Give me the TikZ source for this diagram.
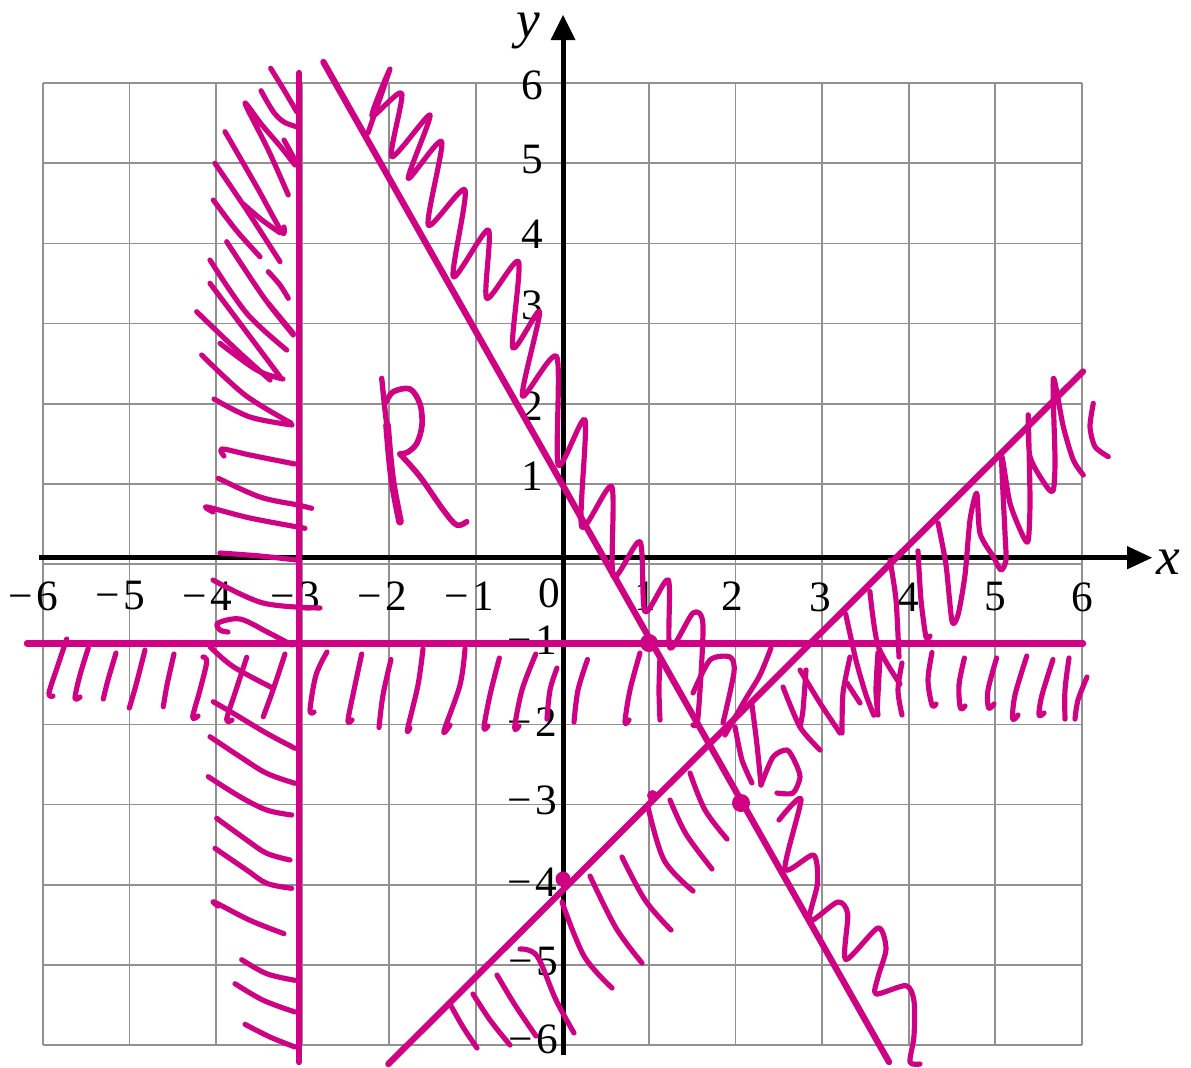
\documentclass[tikz,border=0pt]{standalone}
\usepackage{fontspec}
\setmainfont{Liberation Serif}
\definecolor{mag}{RGB}{208,2,132}
\definecolor{gridc}{RGB}{145,145,145}
\begin{document}
\begin{tikzpicture}[x=0.3pt,y=-0.3pt,
  gridline/.style={draw=gridc, line width=0.5pt},
  axisline/.style={draw=black, line width=1.5pt},
  bigline/.style={draw=mag, line width=1.9pt, line cap=round},
  ht/.style={draw=mag, line width=1.55pt, line cap=round, line join=round},
  lab/.style={font=\fontsize{13}{15}\selectfont, inner sep=0pt},
  alab/.style={font=\fontsize{16}{18}\selectfont\itshape, inner sep=0pt}]
\useasboundingbox (0,0) rectangle (1191,1067);
% grid
\foreach \i in {0,...,12} {
  \draw[gridline] ({42.9+86.58*\i},83) -- ({42.9+86.58*\i},1045.1);
  \draw[gridline] (42.9,{83+80.17*\i}) -- (1081.9,{83+80.17*\i});
}
% axes
\draw[axisline] (39,557.7) -- (1128,557.7);
\fill (1152,557.7) -- (1127,546) -- (1127,569.4) -- cycle;
\draw[axisline] (563,1055) -- (563,39);
\fill (563,15) -- (550.5,40) -- (575.5,40) -- cycle;
\node[alab] (ylab) at (528,31) {y};
\node[alab] (xlab) at (1168,562) {x};
% x labels
\node[lab] (xm6) at (33.7,596) {−\kern0.08em 6};
\node[lab] (xm5) at (120,596) {−\kern0.08em 5};
\node[lab] (xm4) at (207,596) {−\kern0.08em 4};
\node[lab] (xm3) at (295.6,596) {−\kern0.08em 3};
\node[lab] (xm2) at (382,596) {−\kern0.08em 2};
\node[lab] (xm1) at (469.5,596) {−\kern0.08em 1};
\node[lab] (x0) at (549,593) {0};
\node[lab] (x1) at (645,596) {1};
\node[lab] (x2) at (732,596) {2};
\node[lab] (x3) at (820,597) {3};
\node[lab] (x4) at (908,597) {4};
\node[lab] (x5) at (995,597) {5};
\node[lab] (x6) at (1082,597) {6};
% y labels
\node[lab] (y6) at (532,85) {6};
\node[lab] (y5) at (532,160) {5};
\node[lab] (y4) at (532,234) {4};
\node[lab] (y3) at (532,305) {3};
\node[lab] (y2) at (532,406) {2};
\node[lab] (y1) at (532,476) {1};
\node[lab] (ym1) at (532,640) {−\kern0.08em 1};
\node[lab] (ym2) at (532,722) {−\kern0.08em 2};
\node[lab] (ym3) at (532,800) {−\kern0.08em 3};
\node[lab] (ym4) at (532,882) {−\kern0.08em 4};
\node[lab] (ym5) at (533,962) {−\kern0.08em 5};
\node[lab] (ym6) at (533,1039) {−\kern0.08em 6};
% boundary lines
\draw[bigline] (299,73) -- (299,1062);
\draw[bigline] (27,643.5) -- (1083,643.5);
\draw[bigline] (323.4,62) -- (889,1062);
\draw[bigline] (388.4,1064) -- (1083,371.5);
% points
\fill[mag] (649,643) circle (9);
\fill[mag] (741,803) circle (9);
\fill[mag] (563,879) circle (7.5);
\fill[mag] (652.5,795.5) circle (5.5);
% hatching left of x=-3
\foreach \pts in {
 {(270.7,68.3) (284,90) (296.7,111.7)},
 {(261,90.7) (273.3,111.7) (284,122) (298.3,127.3)},
 {(288.3,195) (268.3,150) (245,103.3) (262,125) (280,146) (295,165)},
 {(284,140) (295,160)},
 {(225,131.7) (256.7,186.7) (281.7,231.7) (284,227)},
 {(215,163.3) (246.7,210) (280,261.7)},
 {(243.3,204) (262,220) (280,232.7)},
 {(213.3,200) (236,230) (260,256.7)},
 {(268.3,271.7) (280,285) (288.3,298.3)},
 {(226.7,241.7) (263.3,296.7) (293.3,335)},
 {(210,260) (246.7,313.3) (286.7,350)},
 {(210,283.3) (240,323.3) (280,376.7)},
 {(268.3,303.3) (293.3,333.3)},
 {(196.7,311.7) (236.7,350) (270,380)},
 {(220,343.3) (256.7,370) (283,379)},
 {(201.7,355) (245,395) (291,423)},
 {(214,399) (250,417) (292,425)},
 {(224,456) (222,449) (250,455) (295,464)},
 {(218.3,478.3) (260,497) (298,505) (311.7,508.3)},
 {(213,512) (207,507) (250,518) (305,528.3)},
 {(220,553) (260,556) (296.7,560)},
 {(213,580) (263,603) (320,608)},
 {(228,632) (220,630) (218,623) (240,619) (266.7,631.7) (292,645)},
 {(210,646.7) (233.3,666.7) (273.3,688.3)},
 {(213.3,701.7) (233.3,713.3) (266.7,733.3) (295,748.3)},
 {(210,736.7) (240,756.7) (266.7,773.3) (295,783.3)},
 {(208.3,776.7) (240,796.7) (266.7,810) (291.7,815)},
 {(216.7,818.3) (246.7,840) (266.7,853.3) (290,860)},
 {(215,848.3) (246.7,870) (266.7,883.3) (291.7,888.3)},
 {(218,906) (214.3,902) (250,920.3) (284,933.7)},
 {(241.7,959.7) (266.7,973.7) (295,980.3)},
 {(235,983.7) (263.3,1000.3) (295,1012)},
 {(245,1024.3) (270,1037) (295,1047)}}
 {\draw[ht] plot[smooth, tension=0.55] coordinates \pts;}
% hatching below y=-1
\foreach \pts in {
 {(66.7,639) (58,665) (49,693) (53,696)},
 {(88.3,648) (80,675) (75,698) (80,697)},
 {(116,653) (108,680) (103.3,699)},
 {(145,650) (136,685) (129.3,708)},
 {(174,654) (167,685) (163.3,706.7)},
 {(203,657) (206.7,662) (200,690) (192.7,717) (198,716)},
 {(246.7,657.3) (236,690) (226.7,719.3) (232,720)},
 {(285,654) (273,690) (263.3,716.7)},
 {(327,652) (316,675) (310,710) (314,712)},
 {(361.7,654) (354,690) (348,720.5) (352,720)},
 {(391,659.5) (383,695) (379,727.5)},
 {(423,649) (418,685) (407.6,729) (410,728)},
 {(465,649) (460,685) (444,731) (450,725)},
 {(499.4,658) (490,695) (484,727.5) (488,726)},
 {(535.8,654) (522,690) (514.7,727.5) (519,726)},
 {(557,668) (550,690) (547,719)},
 {(587.5,659.5) (578,690) (574,722)},
 {(640,653) (630,690) (625,722) (629,720)},
 {(660,657) (659,690) (660,720)},
 {(932,652.5) (928,680) (932,705) (936,704)},
 {(964.4,658) (959,685) (960.4,708) (965,706)},
 {(996.6,658) (988,690) (988.6,708) (994,704)},
 {(1026.8,656) (1015,695) (1012.7,719) (1018,715)},
 {(1053,659.5) (1042,695) (1039,715) (1044,713)},
 {(1069,658) (1065,690) (1065,719)},
 {(1087,677) (1078,700) (1075,719)},
 {(902,663) (898,690) (902,715)},
 {(878,652.5) (876,690) (878,715)}}
 {\draw[ht] plot[smooth, tension=0.55] coordinates \pts;}
% zigzag along the falling line
\draw[ht] plot[smooth, tension=0.45] coordinates {(368,133) (390,69) (372,116)
 (401.7,93.3) (391.7,156.7) (430,115) (408.3,178.3) (441.7,141.7) (428.3,225)
 (465,190) (453.3,276.7) (488.3,230) (486.7,298.3) (518.5,261.7) (512.8,347.8)
 (539.6,311.6) (522.4,396) (556.7,356.7) (558.3,465) (585,420) (581.7,526.7)
 (611.7,486.7) (613.3,576.7) (640,541.7) (645,611.7) (668.3,580) (670,648)
 (693,613) (703,625) (698,717) (693,725)};
\foreach \pts in {
 {(693,693) (710,660) (730,657) (734,672) (723,723)},
 {(725,735) (745,700) (760,675) (771,648)},
 {(752,705) (757,745) (761,785)},
 {(761,785) (773,757) (787,750) (795,762) (800,777) (793,793) (777,793)},
 {(735,727) (742,760) (752,783)},
 {(779,820) (801,799) (785,869) (813.5,855) (817.5,883) (809.5,921) (837.7,902)
  (847.7,914) (845.7,959.5) (877.9,928) (886,949) (878,977) (876,994) (906,985.6)
  (914,1001) (914,1036) (910,1062) (920,1064)}}
 {\draw[ht] plot[smooth, tension=0.45] coordinates \pts;}
% hatching below the rising line
\foreach \pts in {
 {(450,1004) (463,1027) (477,1048)},
 {(473,994) (490,1020) (510,1045)},
 {(497,975) (515,1005) (536,1036)},
 {(520,949) (537,956) (556,1000) (574,1033)},
 {(562,902) (584,956) (612,988)},
 {(590,876) (616,928) (642,963)},
 {(622,857) (645,900) (671,930)},
 {(648,807) (664,860) (693,891)},
 {(670,800) (686,834) (712,869)},
 {(690,773) (705,810) (727,839)}}
 {\draw[ht] plot[smooth, tension=0.55] coordinates \pts;}
% hatching right of (3,-1)
\foreach \pts in {
 {(783,687) (800,727) (820,750)},
 {(800,670) (820,703) (840,733)},
 {(806,670) (803,710) (800,727)},
 {(850,657) (843,693) (842,733)},
 {(847,683) (860,703)},
 {(880,657) (877,713)},
 {(845.7,614) (855.8,659.5) (865.8,694.4) (873.9,715.3)},
 {(869.9,591.5) (878,645.6) (900,684)},
 {(890,560) (896,600) (899,657)},
 {(918,551) (921,600) (926,637) (930,636)},
 {(938,523) (946,565) (952,621) (958,615) (965,575) (970,520) (976.7,493.3)
  (980,533.3) (993.3,556.7) (1001,570) (1006,560) (1005,533.3) (1001.7,456.7)
  (1010,503.3) (1023.3,536.7) (1028.3,540) (1030,500) (1028.3,415)
  (1030,456.7) (1046.7,486.7) (1053.3,490) (1055,460) (1053.3,378.3)
  (1063.3,426.7) (1073.3,460) (1083.3,475)},
 {(1093.3,403.3) (1090,426.7) (1095,446.7) (1108.3,456.7)}}
 {\draw[ht] plot[smooth, tension=0.45] coordinates \pts;}
% letter R
\draw[ht, line width=1.6pt] plot[smooth, tension=0.5] coordinates {(381.7,378.3) (385,410) (388.3,436.7)};
\draw[ht, line width=2.3pt] plot[smooth, tension=0.5] coordinates {(387,425) (390,460) (393.3,486.7) (400,521.7)};
\draw[ht, line width=1.7pt] plot[smooth, tension=0.55] coordinates {(386,402) (393.3,391.7) (410,389) (420,404) (422,425) (417,443) (408,452) (400,454)};
\draw[ht, line width=1.7pt] plot[smooth, tension=0.55] coordinates {(400,454) (420,476.7) (443.3,510) (456.7,525) (466.7,521.7)};
\end{tikzpicture}
\end{document}
